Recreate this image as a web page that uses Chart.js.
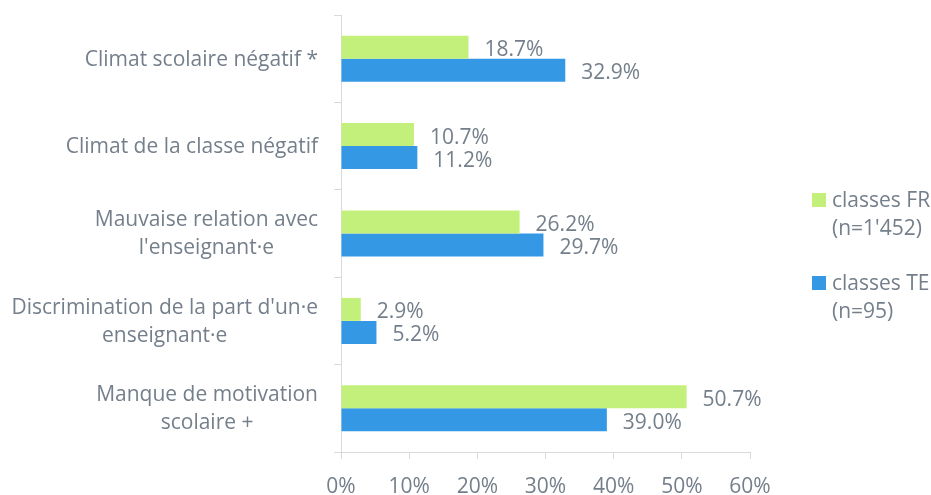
<!DOCTYPE html>
<html>
<head>
<meta charset="utf-8">
<script src="https://cdn.jsdelivr.net/npm/chart.js@4.4.0/dist/chart.umd.min.js"></script>
<style>
  html, body { margin: 0; padding: 0; background: #fff; }
  #wrap { width: 931px; height: 495px; position: relative; }
</style>
</head>
<body>
<div id="wrap"><canvas id="chart"></canvas></div>
<script>
// data
const categories = [
  ["Climat scolaire négatif *"],
  ["Climat de la classe négatif"],
  ["Mauvaise relation avec", "l'enseignant·e"],
  ["Discrimination de la part d'un·e", "enseignant·e"],
  ["Manque de motivation", "scolaire +"]
];
const seriesFR = [18.7, 10.7, 26.2, 2.9, 50.7];
const seriesTE = [32.9, 11.2, 29.7, 5.2, 39.0];
const legendFR = ["classes FR", "(n=1'452)"];
const legendTE = ["classes TE", "(n=95)"];
const xTicks = [0, 10, 20, 30, 40, 50, 60];

const TEXT = '#747f8b';
const AXIS = '#d9d9d9';
const FAMILY = "'Open Sans'";
const FONT = '21px ' + FAMILY;

// y labels: right-aligned block, lines centred inside it
const yLabelPlugin = {
  id: 'yLabels',
  afterDraw(chart) {
    const ctx = chart.ctx;
    const y = chart.scales.y;
    ctx.save();
    ctx.font = FONT;
    ctx.fillStyle = TEXT;
    ctx.textAlign = 'center';
    ctx.textBaseline = 'middle';
    categories.forEach((lines, i) => {
      const cy = y.getPixelForTick(i);
      const w = Math.max(...lines.map(l => ctx.measureText(l).width));
      const cx = chart.chartArea.left - 23 - w / 2;
      lines.forEach((l, j) => {
        ctx.fillText(l, cx, cy + (j - (lines.length - 1) / 2) * 28 + 1);
      });
    });
    ctx.restore();
  }
};

// value labels at bar ends
const valueLabelPlugin = {
  id: 'valueLabels',
  afterDatasetsDraw(chart) {
    const ctx = chart.ctx;
    ctx.save();
    ctx.font = FONT;
    ctx.fillStyle = TEXT;
    ctx.textAlign = 'left';
    ctx.textBaseline = 'middle';
    chart.data.datasets.forEach((ds, di) => {
      chart.getDatasetMeta(di).data.forEach((bar, i) => {
        ctx.fillText(ds.data[i].toFixed(1) + '%', bar.x + 16, bar.y + 3);
      });
    });
    ctx.restore();
  }
};

// legend on the right with two-line entries
const legendPlugin = {
  id: 'sideLegend',
  afterDraw(chart) {
    const ctx = chart.ctx;
    const x = chart.chartArea.right + 62;
    const items = [
      { lines: legendFR, color: chart.data.datasets[0].backgroundColor, top: 193 },
      { lines: legendTE, color: chart.data.datasets[1].backgroundColor, top: 276 }
    ];
    ctx.save();
    ctx.font = FONT;
    ctx.textAlign = 'left';
    ctx.textBaseline = 'middle';
    items.forEach(it => {
      ctx.fillStyle = it.color;
      ctx.fillRect(x, it.top, 14, 14);
      ctx.fillStyle = TEXT;
      it.lines.forEach((l, j) => ctx.fillText(l, x + 20, it.top + 8 + j * 28));
    });
    ctx.restore();
  }
};

new Chart(document.getElementById('chart'), {
  type: 'bar',
  data: {
    labels: categories.map(c => c.join(' ')),
    datasets: [
      { label: legendFR.join(' '), data: seriesFR, backgroundColor: '#c3f07a',
        categoryPercentage: 0.526, barPercentage: 1.0 },
      { label: legendTE.join(' '), data: seriesTE, backgroundColor: '#3598e5',
        categoryPercentage: 0.526, barPercentage: 1.0 }
    ]
  },
  options: {
    indexAxis: 'y',
    responsive: true,
    maintainAspectRatio: false,
    animation: false,
    layout: { padding: { left: 0, right: 181, top: 15, bottom: 0 } },
    plugins: {
      legend: { display: false },
      tooltip: { enabled: false }
    },
    scales: {
      x: {
        min: 0,
        max: 60,
        afterBuildTicks: s => { s.ticks = xTicks.map(v => ({ value: v })); },
        afterFit: s => { s.height = 43; },
        grid: { drawOnChartArea: false, drawTicks: true, tickLength: 7, color: AXIS },
        border: { color: AXIS, width: 1 },
        ticks: {
          padding: 15,
          color: TEXT,
          font: { family: FAMILY, size: 21 },
          callback: v => v + '%'
        }
      },
      y: {
        afterFit: s => { s.width = 341; },
        grid: { drawOnChartArea: false, drawTicks: true, tickLength: 7, color: AXIS },
        border: { color: AXIS, width: 1 },
        ticks: { display: false }
      }
    }
  },
  plugins: [yLabelPlugin, valueLabelPlugin, legendPlugin]
});
</script>
</body>
</html>
